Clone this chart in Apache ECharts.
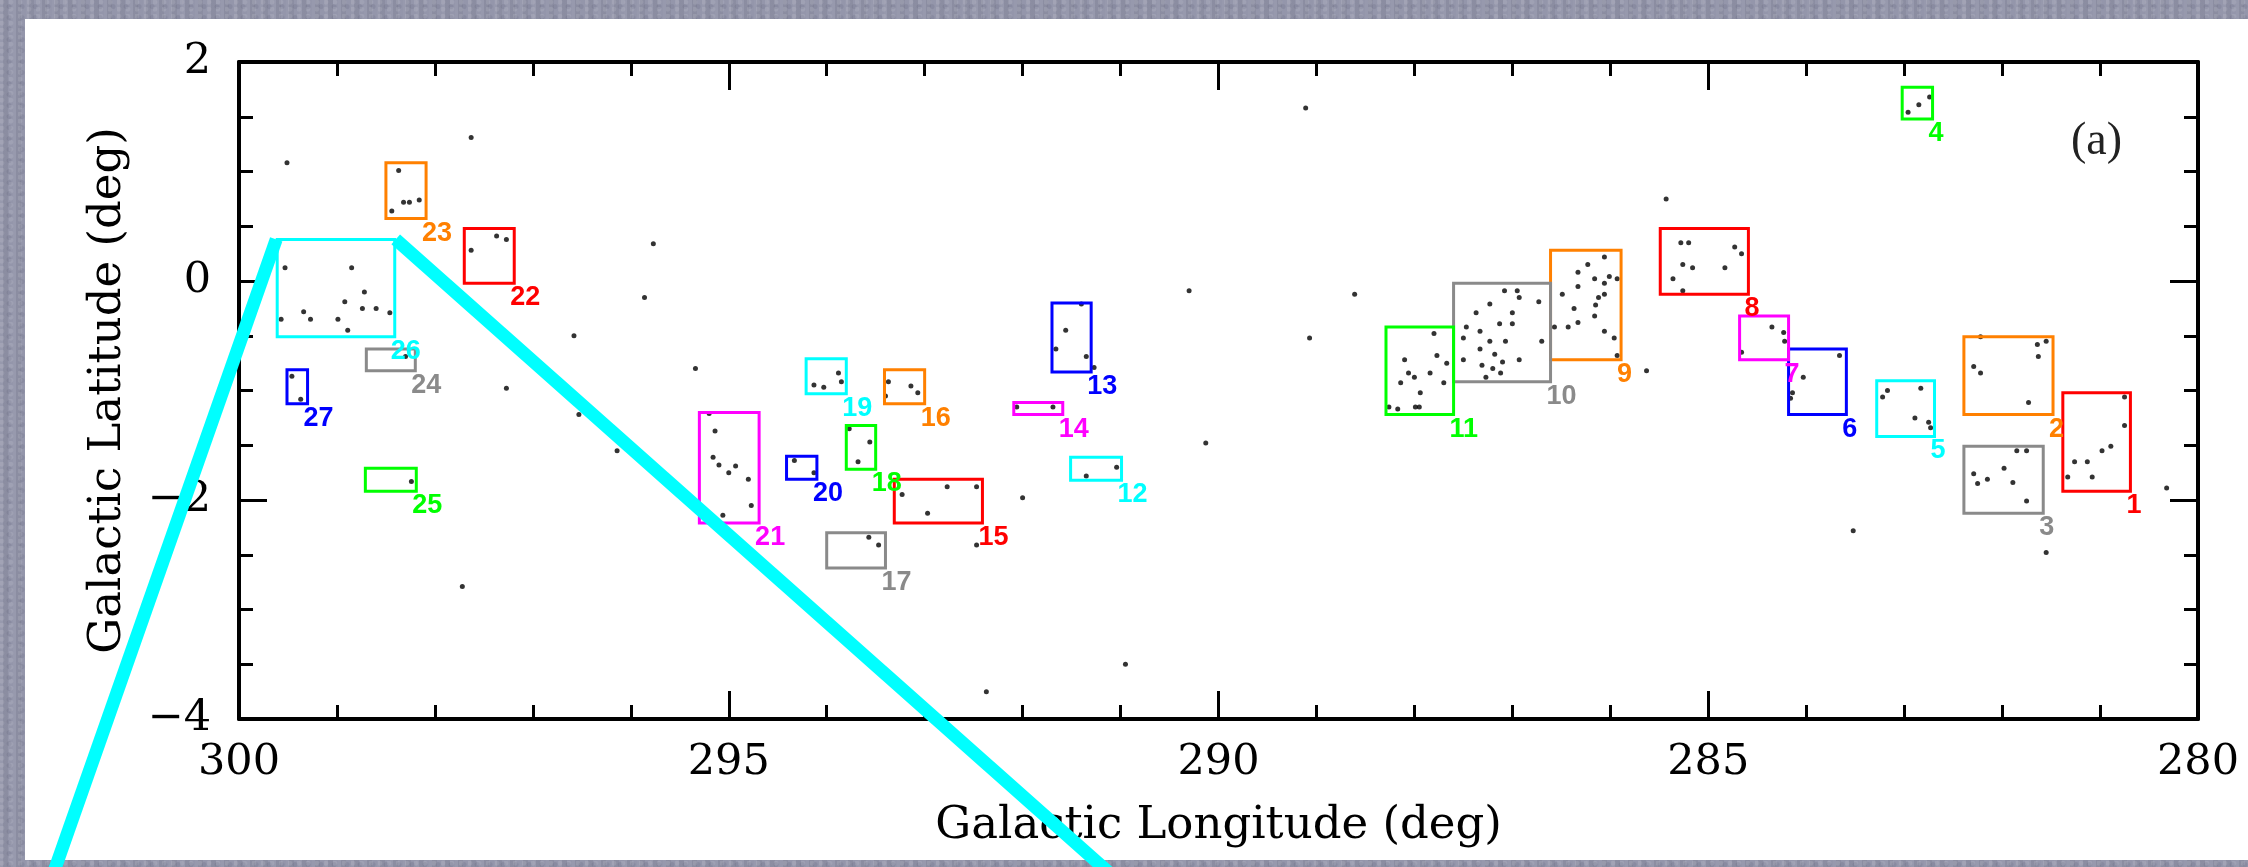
<!DOCTYPE html>
<html>
<head>
<meta charset="utf-8">
<script src="https://cdn.jsdelivr.net/npm/echarts@6/dist/echarts.min.js"></script>
<style>
  html, body { margin: 0; padding: 0; }
  body {
    width: 2248px; height: 867px; overflow: hidden; position: relative;
    background-color: #9193a8;
    background-image:
      radial-gradient(circle at 20% 30%, rgba(255,255,255,0.10) 0 2px, transparent 3px),
      radial-gradient(circle at 70% 60%, rgba(40,40,70,0.10) 0 2px, transparent 3px),
      repeating-linear-gradient(90deg, rgba(255,255,255,0.06) 0 3px, rgba(0,0,0,0.04) 3px 8px, rgba(255,255,255,0.03) 8px 13px);
    background-size: 9px 7px, 13px 11px, auto;
  }
  #panel { position: absolute; left: 25px; top: 19px; width: 2223px; height: 841px; background: #ffffff; }
  #chart { position: absolute; left: 0; top: 0; width: 2248px; height: 867px; }
</style>
</head>
<body>
<div id="panel"></div>
<div id="chart"></div>
<script>
// ---- tick labels ----
const xTickValues = [300, 295, 290, 285, 280];
const yTickValues = [2, 0, -2, -4];

// ---- boxes: id, longitude range (max, min), latitude range (max, min) ----
const boxIds    = [1, 2, 3, 4, 5, 6, 7, 8, 9, 10, 11, 12, 13, 14, 15, 16, 17, 18, 19, 20, 21, 22, 23, 24, 25, 26, 27];
const boxLonMax = [281.38, 282.39, 282.39, 283.02, 283.28, 284.18, 284.68, 285.49, 286.61, 287.60, 288.29, 291.51, 291.70, 292.09, 293.31, 293.41, 294.00, 293.80, 294.21, 294.41, 295.30, 297.70, 298.50, 298.70, 298.71, 299.61, 299.51];
const boxLonMin = [280.69, 281.48, 281.58, 282.71, 282.69, 283.59, 284.18, 284.59, 285.89, 286.61, 287.60, 290.99, 291.30, 291.59, 292.41, 293.00, 293.40, 293.50, 293.80, 294.10, 294.69, 297.19, 298.09, 298.20, 298.19, 298.41, 299.30];
const boxLatMax = [-1.02, -0.51, -1.51, 1.77, -0.91, -0.62, -0.32, 0.48, 0.28, -0.02, -0.42, -1.61, -0.20, -1.11, -1.81, -0.81, -2.30, -1.32, -0.71, -1.60, -1.20, 0.48, 1.08, -0.62, -1.71, 0.38, -0.81];
const boxLatMin = [-1.92, -1.22, -2.12, 1.48, -1.42, -1.22, -0.72, -0.12, -0.72, -0.92, -1.22, -1.82, -0.83, -1.22, -2.21, -1.12, -2.62, -1.72, -1.03, -1.81, -2.21, -0.02, 0.57, -0.82, -1.92, -0.51, -1.12];

// ---- stars (longitude, latitude) ----
const fieldStars = [
  [299.51, 1.08], [297.63, 1.31], [295.77, 0.34], [295.86, -0.15], [296.58, -0.50], [295.34, -0.80],
  [297.27, -0.98], [296.53, -1.22], [296.14, -1.55], [297.72, -2.79], [292.47, -2.41], [292.00, -1.98],
  [290.95, -3.50], [292.37, -3.75], [289.11, 1.58], [290.30, -0.09], [288.61, -0.12], [289.07, -0.52],
  [290.13, -1.48], [285.63, -0.82], [285.43, 0.75], [283.52, -2.28], [281.55, -2.48], [280.32, -1.89],
  [291.27, -0.79]
];
const boxStars = [
  [298.37, 1.01], [298.44, 0.64], [298.32, 0.72], [298.26, 0.72], [298.16, 0.74],
  [297.63, 0.28], [297.37, 0.41], [297.27, 0.38],
  [299.53, 0.12], [298.85, 0.12], [298.72, -0.10], [298.92, -0.19], [299.34, -0.28], [298.74, -0.25],
  [298.60, -0.25], [298.46, -0.29], [299.57, -0.35], [299.27, -0.35], [298.99, -0.35], [298.89, -0.45],
  [298.30, -0.69],
  [299.46, -0.87], [299.37, -1.08],
  [298.24, -1.83],
  [295.20, -1.21], [295.14, -1.37], [295.16, -1.61], [295.10, -1.68], [294.93, -1.69], [295.00, -1.75],
  [294.80, -1.81], [294.77, -2.05], [295.06, -2.14],
  [294.13, -0.95], [294.03, -0.97], [293.88, -0.84], [293.85, -0.92],
  [293.37, -0.92], [293.14, -0.96], [293.07, -1.02], [293.40, -1.05],
  [293.77, -1.35], [293.56, -1.47], [293.68, -1.65],
  [294.33, -1.64], [294.13, -1.75],
  [293.23, -1.95], [292.77, -1.88], [292.47, -1.88], [292.97, -2.12],
  [293.57, -2.34], [293.47, -2.41],
  [291.56, -0.45], [291.66, -0.62], [291.35, -0.69], [291.40, -0.21],
  [292.06, -1.15], [291.69, -1.15],
  [291.35, -1.78], [291.04, -1.70],
  [287.80, -0.48], [288.10, -0.72], [287.77, -0.68], [287.67, -0.75], [288.06, -0.84], [288.00, -0.88],
  [287.84, -0.84], [288.14, -0.93], [287.70, -0.93], [287.94, -1.02], [288.26, -1.15], [288.17, -1.17],
  [287.99, -1.15], [287.95, -1.15],
  [287.08, -0.09], [286.95, -0.09], [286.93, -0.15], [286.73, -0.19], [287.23, -0.21], [287.37, -0.29],
  [287.00, -0.29], [287.13, -0.39], [287.00, -0.39], [287.47, -0.42], [287.33, -0.46], [287.50, -0.52],
  [287.23, -0.55], [287.07, -0.55], [286.70, -0.55], [287.33, -0.62], [287.18, -0.67], [287.50, -0.72],
  [286.93, -0.72], [287.31, -0.77], [287.10, -0.74], [287.20, -0.80], [287.12, -0.84], [287.27, -0.88],
  [286.06, 0.22], [286.23, 0.15], [286.33, 0.08], [286.16, 0.02], [286.01, 0.04], [285.93, 0.02],
  [286.06, -0.02], [286.33, -0.05], [286.49, -0.12], [286.06, -0.12], [286.12, -0.15], [286.15, -0.22],
  [286.37, -0.25], [286.16, -0.32], [286.33, -0.38], [286.43, -0.42], [286.57, -0.42], [286.06, -0.46],
  [285.96, -0.52], [285.93, -0.68],
  [285.28, 0.35], [285.20, 0.35], [284.73, 0.31], [284.66, 0.25], [285.26, 0.15], [285.16, 0.12],
  [284.83, 0.12], [285.36, 0.02], [285.26, -0.09],
  [284.35, -0.42], [284.23, -0.47], [284.22, -0.55], [284.66, -0.65],
  [283.66, -0.68], [284.03, -0.88], [284.14, -1.02], [284.16, -1.07],
  [283.17, -1.00], [283.22, -1.06], [282.83, -0.98], [282.89, -1.25], [282.75, -1.29], [282.73, -1.34],
  [282.96, 1.54], [282.85, 1.61], [282.74, 1.68],
  [282.22, -0.51], [281.64, -0.58], [281.55, -0.55], [281.63, -0.69], [282.29, -0.78], [282.22, -0.84], [281.73, -1.11],
  [281.85, -1.55], [281.75, -1.55], [281.98, -1.71], [282.29, -1.76], [282.15, -1.81], [282.25, -1.85],
  [281.89, -1.84], [281.75, -2.01],
  [280.75, -1.06], [280.75, -1.32], [280.89, -1.51], [280.98, -1.55], [281.26, -1.65], [281.13, -1.65],
  [281.33, -1.79], [281.08, -1.79]
];

// ---- zoom guide lines from box 26: [lon start, lat start, lon end, lat end] ----
const zoomLines = [
  [299.62, 0.38, 301.97, -5.6],
  [298.40, 0.38, 290.87, -5.6]
];

// ---- styles ----
const boxPalette = ['#ff0000', '#ff8000', '#8a8a8a', '#00ff00', '#00ffff', '#0000ff', '#ff00ff'];
const axisFont = 'DejaVu Serif';

const boxData = boxIds.map((id, i) => [boxLonMax[i], boxLonMin[i], boxLatMax[i], boxLatMin[i], id]);

function minusFmt(v) { return v < 0 ? '\u2212' + Math.abs(v) : String(v); }

const tickCommon = { inside: true, length: 28, lineStyle: { color: '#000', width: 3 } };
const minorCommon = { show: true, length: 14, lineStyle: { color: '#000', width: 3 } };
const lineCommon = { show: true, onZero: false, lineStyle: { color: '#000', width: 4 } };

const chart = echarts.init(document.getElementById('chart'), null, { renderer: 'canvas' });
chart.setOption({
  backgroundColor: 'transparent',
  animation: false,
  title: {
    text: '(a)', left: 2066, top: 114,
    textStyle: { fontFamily: 'Liberation Serif', fontSize: 46, fontWeight: 'normal', color: '#222' }
  },
  grid: { left: 239, right: 50, top: 62, bottom: 148, outerBoundsMode: 'none' },
  xAxis: [
    {
      type: 'value', min: 280, max: 300, interval: 5, inverse: true, position: 'bottom',
      axisLine: lineCommon, axisTick: tickCommon,
      minorTick: Object.assign({ splitNumber: 5 }, minorCommon),
      splitLine: { show: false },
      axisLabel: {
        margin: 22, fontFamily: axisFont, fontSize: 43, color: '#000',
        formatter: v => xTickValues.includes(v) ? minusFmt(v) : ''
      },
      name: 'Galactic Longitude (deg)', nameLocation: 'middle', nameGap: 85,
      nameTextStyle: { fontFamily: axisFont, fontSize: 45, color: '#000' }
    },
    {
      type: 'value', min: 280, max: 300, interval: 5, inverse: true, position: 'top',
      axisLine: lineCommon, axisTick: tickCommon,
      minorTick: Object.assign({ splitNumber: 5 }, minorCommon),
      splitLine: { show: false }, axisLabel: { show: false }
    }
  ],
  yAxis: [
    {
      type: 'value', min: -4, max: 2, interval: 2, position: 'left',
      axisLine: lineCommon, axisTick: tickCommon,
      minorTick: Object.assign({ splitNumber: 4 }, minorCommon),
      splitLine: { show: false },
      axisLabel: {
        margin: 28, fontFamily: axisFont, fontSize: 43, color: '#000',
        formatter: v => yTickValues.includes(v) ? minusFmt(v) : ''
      },
      name: 'Galactic Latitude (deg)', nameLocation: 'middle', nameGap: 108,
      nameTextStyle: { fontFamily: axisFont, fontSize: 45, color: '#000' }
    },
    {
      type: 'value', min: -4, max: 2, interval: 2, position: 'right',
      axisLine: lineCommon, axisTick: tickCommon,
      minorTick: Object.assign({ splitNumber: 4 }, minorCommon),
      splitLine: { show: false }, axisLabel: { show: false }
    }
  ],
  series: [
    {
      type: 'scatter', name: 'field', xAxisIndex: 0, yAxisIndex: 0,
      data: fieldStars, symbol: 'circle', symbolSize: 5,
      itemStyle: { color: '#000' }, silent: true, z: 3
    },
    {
      type: 'scatter', name: 'members', xAxisIndex: 0, yAxisIndex: 0,
      data: boxStars, symbol: 'circle', symbolSize: 5,
      itemStyle: { color: '#000' }, silent: true, z: 3
    },
    {
      type: 'custom', name: 'boxes', xAxisIndex: 0, yAxisIndex: 0,
      data: boxData, encode: { x: [0, 1], y: [2, 3] }, silent: true, z: 4,
      renderItem: function (params, api) {
        const p1 = api.coord([api.value(0), api.value(2)]);
        const p2 = api.coord([api.value(1), api.value(3)]);
        const x0 = Math.min(p1[0], p2[0]), x1 = Math.max(p1[0], p2[0]);
        const y0 = Math.min(p1[1], p2[1]), y1 = Math.max(p1[1], p2[1]);
        const id = api.value(4);
        const color = boxPalette[(id - 1) % boxPalette.length];
        return {
          type: 'group',
          children: [
            { type: 'rect', shape: { x: x0, y: y0, width: x1 - x0, height: y1 - y0 },
              style: { fill: null, stroke: color, lineWidth: 3 } },
            { type: 'text', x: x1 - 4, y: y1 + 1,
              style: { text: String(id), fill: color, font: 'bold 27px "Liberation Sans"',
                       align: 'left', verticalAlign: 'top' } }
          ]
        };
      }
    },
    {
      type: 'custom', name: 'zoomLines', xAxisIndex: 0, yAxisIndex: 0,
      data: zoomLines, encode: { x: [0, 2], y: [1, 3] }, clip: false, silent: true, z: 6,
      renderItem: function (params, api) {
        const a = api.coord([api.value(0), api.value(1)]);
        const b = api.coord([api.value(2), api.value(3)]);
        return {
          type: 'line',
          shape: { x1: a[0], y1: a[1], x2: b[0], y2: b[1] },
          style: { stroke: '#00ffff', lineWidth: 13, lineCap: 'butt' }
        };
      }
    }
  ]
});
</script>
</body>
</html>
